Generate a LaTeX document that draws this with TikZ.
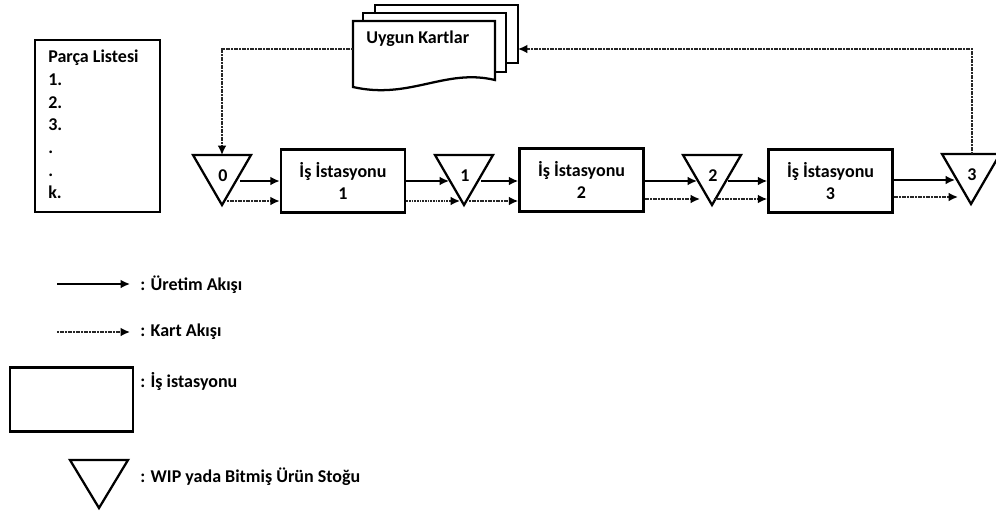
\documentclass[tikz,border=0pt]{standalone}
\usepackage{fontspec}
\setmainfont{Carlito}
\usetikzlibrary{arrows.meta}
\begin{document}
\begin{tikzpicture}[x=0.75pt,y=-0.75pt,
  txt/.style={font=\fontsize{13.5}{17}\selectfont\bfseries, inner sep=0pt},
  station/.style={draw, line width=1.9pt, minimum width=93pt, minimum height=47pt, inner sep=0pt, align=center, font=\fontsize{13.5}{17}\selectfont\bfseries},
  tri/.style={draw, line width=1.7pt, line join=miter},
  prod/.style={line width=1.3pt, -{Latex[length=7pt,width=6.5pt]}},
  card/.style={line width=1.3pt, black!85, dash pattern=on 1.4pt off 0.6pt, -{Latex[length=7pt,width=6.5pt,black]}},
  doc/.style={draw, line width=1.7pt, fill=white, line join=miter}]
\useasboundingbox (0,0) rectangle (996,515);

% Parts list
\node[draw, line width=1.9pt, minimum width=94pt, minimum height=129pt, inner sep=0pt] (plist) at (97.5,126) {};
\node[txt, anchor=north west, align=left] (plisttxt) at (48,50) {Parça Listesi\\1.\\2.\\3.\\.\\.\\k.};

% Stacked documents
\draw[doc] (375,5) rectangle (518,63);
\draw[doc] (363,13) rectangle (506,72);
\draw[doc] (353,21) -- (495,21) -- (495,80) .. controls (445,68) and (410,100) .. (353,87) -- cycle;
\node[txt, anchor=west] (cards) at (366,39) {Uygun Kartlar};
\coordinate (docw) at (353,49);
\coordinate (doce) at (518,49);

% Stations
\node[station] (box1) at (343,181) {İş İstasyonu\\1};
\node[station] (box2) at (581.5,180) {İş İstasyonu\\2};
\node[station] (box3) at (830.5,181) {İş İstasyonu\\3};

% Stock triangles
\newcommand{\stocktri}[4]{%
  \draw[tri] (#2,#3) -- ++(58,0) -- ++(-29,50) -- cycle;
  \node[txt] (#1) at (#2+30,#3+21) {#4};}
\stocktri{t0}{193}{155}{0}
\stocktri{t1}{435}{155}{1}
\stocktri{t2}{683}{155}{2}
\stocktri{t3}{942}{154}{3}

\coordinate (t0top) at (222,155);
\coordinate (t0e) at (240,181);
\coordinate (t0a) at (227,201);
\coordinate (t1w) at (449,181);
\coordinate (t1wa) at (460,201);
\coordinate (t1e) at (481,181);
\coordinate (t1a) at (469,201);
\coordinate (t2w) at (697,181);
\coordinate (t2wa) at (700,199);
\coordinate (t2e) at (728,181);
\coordinate (t2a) at (714,199);
\coordinate (t3w) at (955,180);
\coordinate (t3wa) at (958,197);
\coordinate (t3top) at (972,154);

% Production flow
\draw[prod] (t0e) -- (t0e -| box1.west);
\draw[prod] (box1.east |- t1w) -- (t1w);
\draw[prod] (t1e) -- (t1e -| box2.west);
\draw[prod] (box2.east |- t2w) -- (t2w);
\draw[prod] (t2e) -- (t2e -| box3.west);
\draw[prod] (box3.east |- t3w) -- (t3w);

% Card flow
\draw[card] (t0a) -- (t0a -| box1.west);
\draw[card] (box1.east |- t1wa) -- (t1wa);
\draw[card] (t1a) -- (t1a -| box2.west);
\draw[card] (box2.east |- t2wa) -- (t2wa);
\draw[card] (t2a) -- (t2a -| box3.west);
\draw[card] (box3.east |- t3wa) -- (t3wa);
\draw[card] (docw) -| (t0top);
\draw[card] (t3top) |- (doce);

% Legend
\coordinate (l1a) at (57,284);
\coordinate (l1b) at (130,284);
\draw[prod] (l1a) -- (l1b);
\node[txt, anchor=west] (lg1) at (140,285) {: Üretim Akışı};
\coordinate (l2a) at (57,332);
\coordinate (l2b) at (130,332);
\draw[card] (l2a) -- (l2b);
\node[txt, anchor=west] (lg2) at (140,332) {: Kart Akışı};
\node[draw, line width=1.9pt, minimum width=92pt, minimum height=48pt, inner sep=0pt] (lgbox) at (71.5,399.5) {};
\node[txt, anchor=west] (lg3) at (140,381) {: İş istasyonu};
\draw[tri] (70,460) -- (128,460) -- (99,508) -- cycle;
\node[txt, anchor=west] (lg4) at (140,477) {: WIP yada Bitmiş Ürün Stoğu};
\end{tikzpicture}
\end{document}
